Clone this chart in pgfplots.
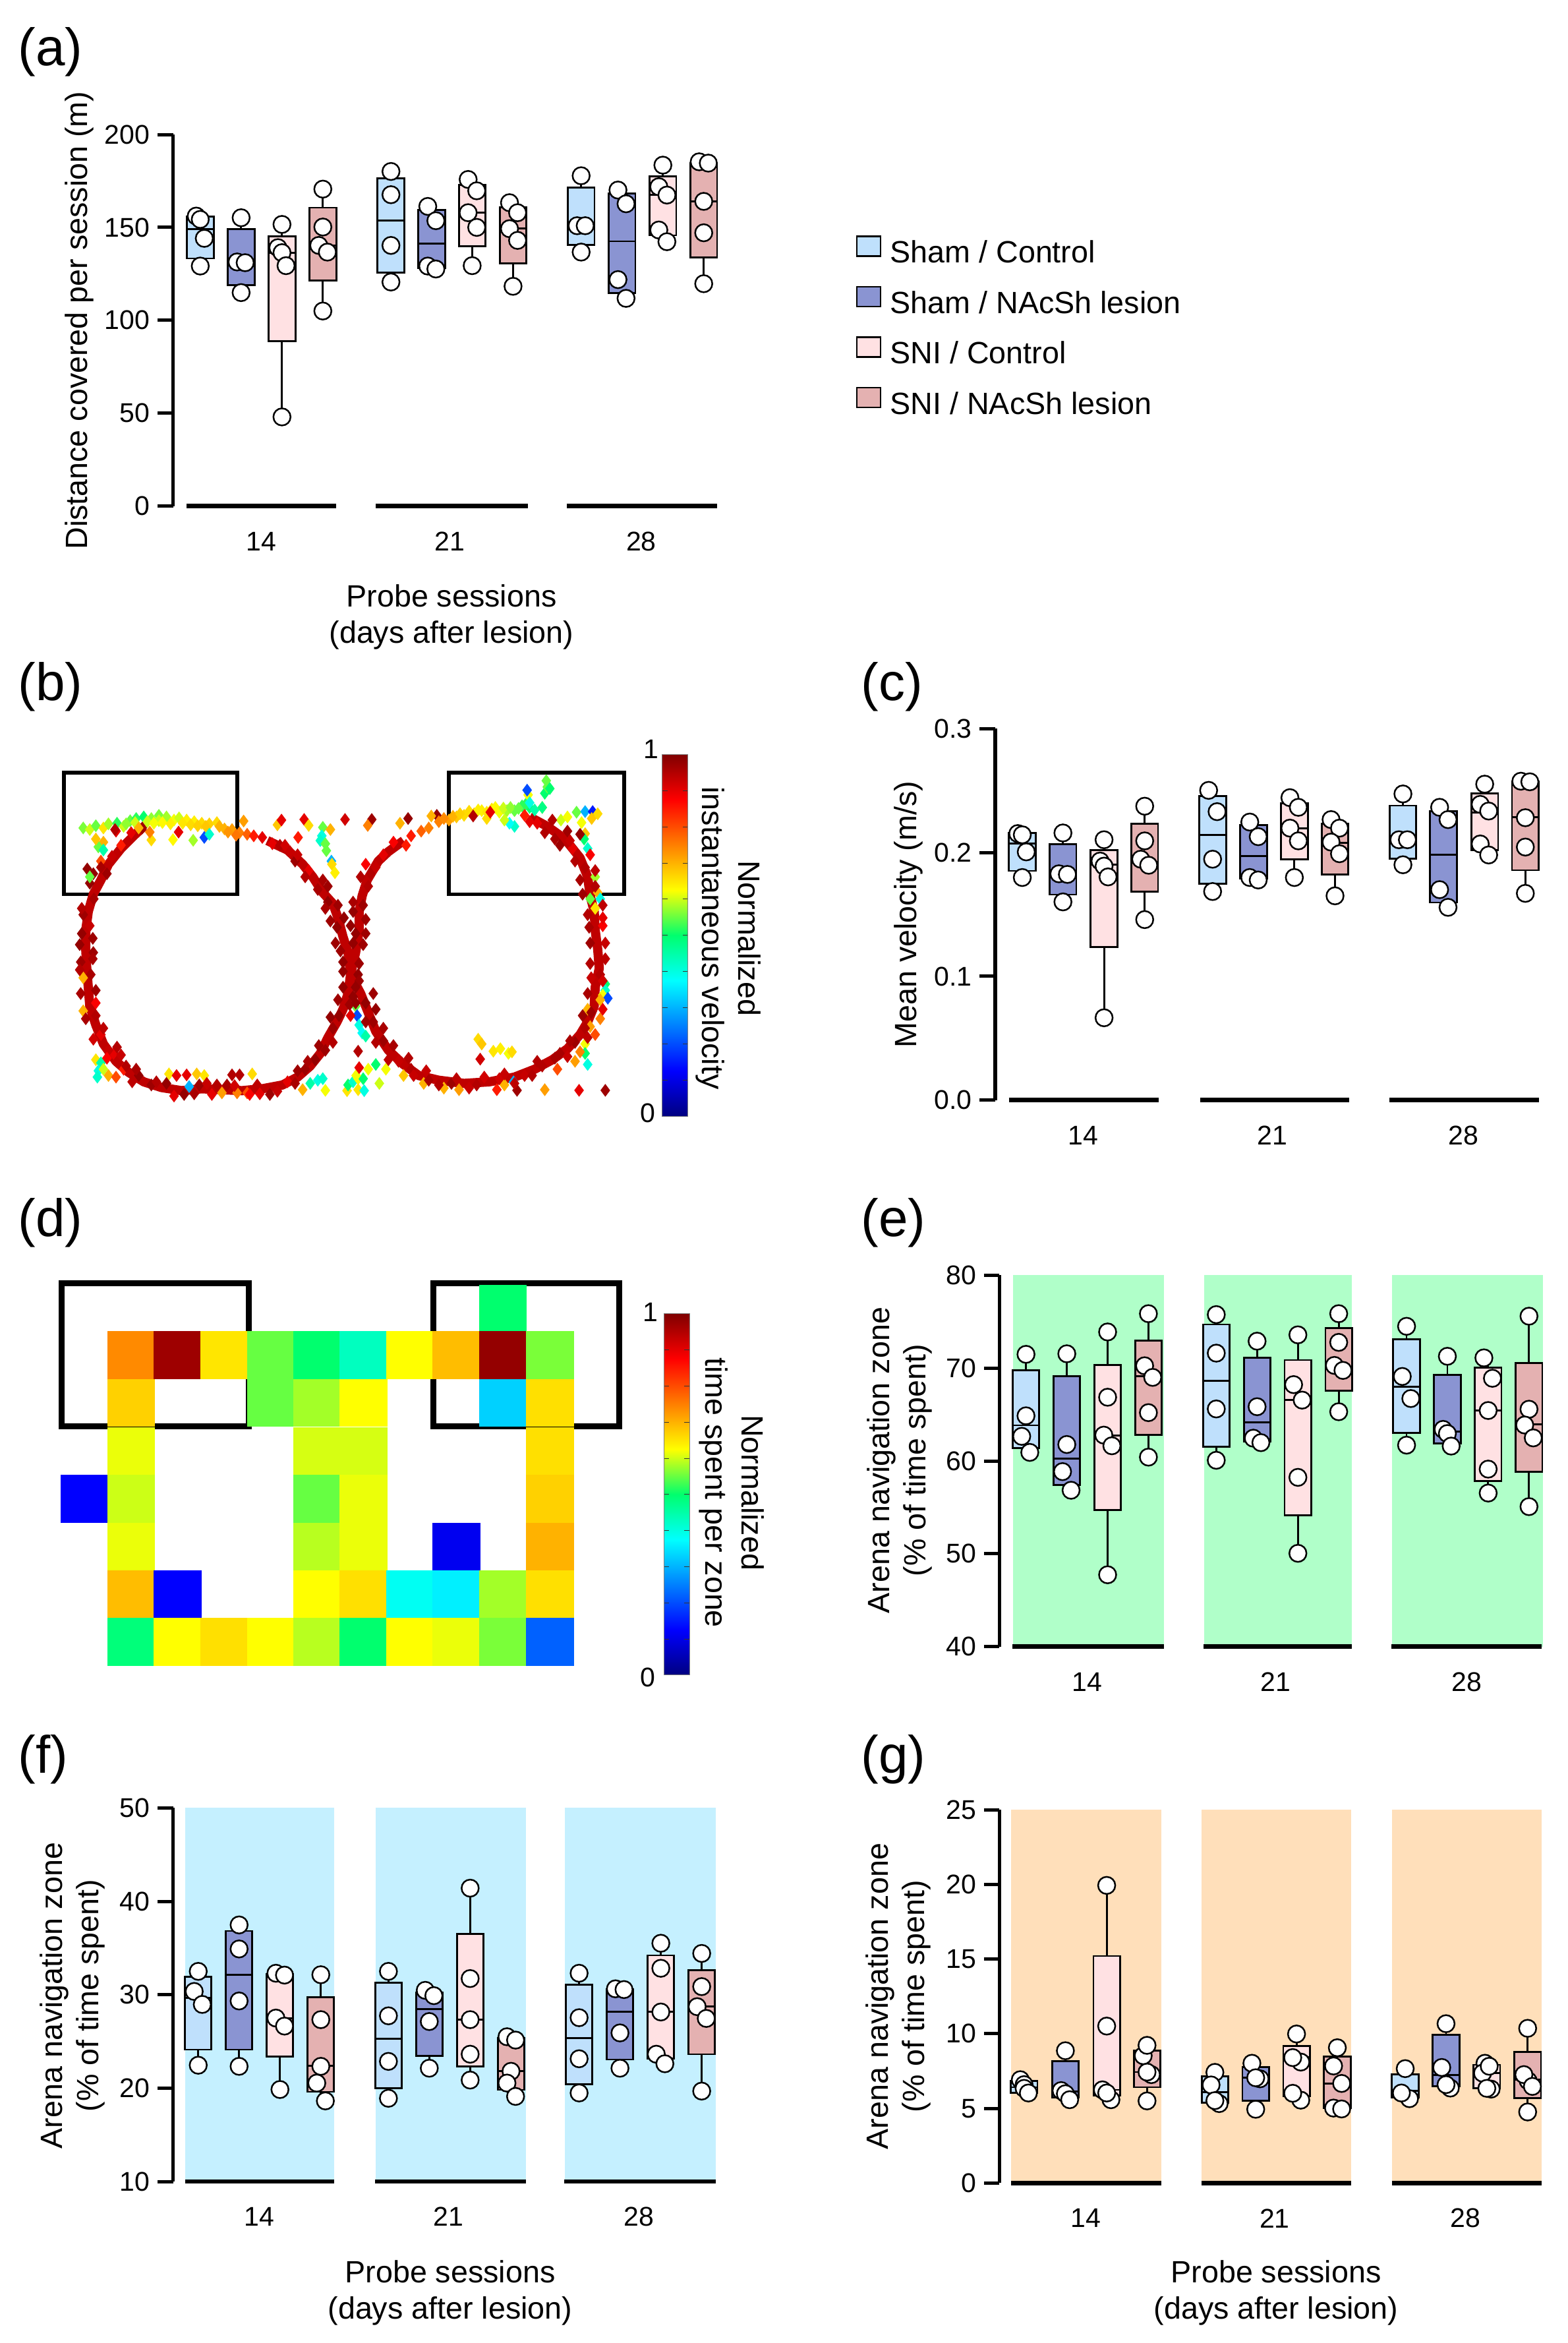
\documentclass[border=0pt]{standalone}
\usepackage{pgfplots}
\pgfplotsset{compat=1.18}
\usepackage{fontspec}
\setmainfont{Liberation Sans}
\definecolor{cA}{HTML}{BFE0FC}
\definecolor{cB}{HTML}{8A94D2}
\definecolor{cC}{HTML}{FFE1E3}
\definecolor{cD}{HTML}{E4B1B1}
\definecolor{bE}{HTML}{B0FFC9}
\definecolor{bF}{HTML}{C5F0FF}
\definecolor{bG}{HTML}{FFDFBA}
\newcommand\tickf{\fontsize{12.3}{14}\selectfont}
\newcommand\labf{\fontsize{14}{16.4}\selectfont}
\newcommand\pnlf{\fontsize{24}{26}\selectfont}
\pgfplotsset{
 jetg/.style={colormap={jetg}{rgb255(0cm)=(0,0,128) rgb255(1cm)=(0,0,255) rgb255(3cm)=(0,255,255) rgb255(4cm)=(0,255,110) rgb255(5cm)=(255,255,0) rgb255(7cm)=(255,0,0) rgb255(8cm)=(128,0,0)}},
 bxp/.style={scale only axis, anchor=north west, axis lines=left, axis line style={-},
  y axis line style={line width=1.7pt}, x axis line style={draw=none}, clip=false,
  tick align=outside, major tick length=7pt, ytick style={black,line width=1.5pt},
  xtick style={draw=none}, xticklabels={14,21,28},
  ticklabel style={font=\tickf}, xticklabel style={anchor=center,yshift=-9pt}},
 cbar/.style={hide axis, scale only axis, anchor=north west, xmin=0,xmax=1568,ymin=0,ymax=1568,y dir=reverse, clip=false, jetg, point meta min=0, point meta max=1, colorbar},
 cbs/.style={scale only axis, anchor=north west, ytick={0,0.1,...,1}, yticklabels={}, tick align=inside, major tick length=2.5pt, ytick style={black!80,line width=.3pt}, axis line style={black!50,line width=.3pt}}
}
% position, colour, lower whisker, lower quartile, median, upper quartile, upper whisker, animals
\newcommand\bx[8]{%
 \pgfmathsetmacro\xl{#1-\hw}\pgfmathsetmacro\xr{#1+\hw}%
 \addplot[black,line width=.85pt] coordinates {(#1,#3)(#1,#7)};
 \addplot[fill=#2,draw=black,line width=.85pt] coordinates {(\xl,#4)(\xr,#4)(\xr,#6)(\xl,#6)} -- cycle;
 \addplot[black,line width=.85pt] coordinates {(\xl,#5)(\xr,#5)};
 \addplot[only marks,mark=*,mark size=3.9pt,mark options={fill=white,draw=black,line width=.75pt}] coordinates {#8};
}
\newcommand\bl[3]{\addplot[black,line width=2pt] coordinates {(#1,#3)(#2,#3)};}
\newcommand\bd[4]{\addplot[fill=#3,draw=none] coordinates {(#1,#4)(#1,\ytop)(#2,\ytop)(#2,#4)} -- cycle;}
\begin{document}
\begin{tikzpicture}
\useasboundingbox (0pt,0pt) rectangle (713.7pt,-1066.2pt);
% ---- (a)
\def\hw{26.5}
\begin{axis}[bxp, at={(78.75pt,-61.2pt)}, width=249.6pt, height=169.1pt, xmin=343,xmax=1430, ymin=0,ymax=200,
 ytick={0,50,100,150,200}, yticklabels={0,50,100,150,200}, xtick={518,892,1271}]
\bl{370}{666}{0}\bl{745}{1047}{0}\bl{1124}{1422}{0}
\bx{397}{cA}{129.2}{133.3}{149.1}{155.7}{156.1}{(389,156.1)(397,154.3)(405,144.1)(397,129.2)}
\bx{478}{cB}{114.9}{118.8}{131.7}{149.1}{155.2}{(478,155.2)(470,131.4)(486,131)(478,114.9)}
\bx{559}{cC}{48}{88.9}{136.4}{145.2}{151.6}{(559,151.6)(551,139.1)(559,136.4)(567,129.4)(559,48)}
\bx{640}{cD}{105}{121.3}{140.3}{160.6}{170.6}{(640,170.6)(640,150.2)(632,140.3)(649,136.7)(640,105)}
\bx{775}{cA}{120.6}{125.6}{153.8}{176.5}{180.1}{(775,180.1)(775,167.6)(775,140.3)(775,120.6)}
\bx{856}{cB}{127.6}{128.1}{141.2}{159.3}{161.3}{(848,161.3)(864,153.6)(848,129.2)(864,127.6)}
\bx{936}{cC}{129.4}{140}{157.9}{172.9}{175.8}{(928,175.8)(945,169.7)(928,157.9)(945,150)(936,129.4)}
\bx{1017}{cD}{118.3}{130.5}{149.3}{160.9}{163.3}{(1010,163.3)(1026,157.9)(1010,149.3)(1026,143)(1017,118.3)}
\bx{1152}{cA}{136.7}{140.5}{150.9}{171.3}{177.8}{(1152,177.8)(1144,150.9)(1160,150.9)(1152,136.7)}
\bx{1233}{cB}{111.8}{114.7}{142.5}{168.1}{170.1}{(1225,170.1)(1241,162.7)(1225,121.9)(1241,111.8)}
\bx{1314}{cC}{142.3}{145.7}{167.4}{177.6}{183.5}{(1314,183.5)(1306,171.9)(1322,167.4)(1306,148.6)(1322,142.3)}
\bx{1395}{cD}{119.7}{133.7}{164}{184.6}{185.3}{(1386,185.3)(1404,184.6)(1395,164)(1395,147.1)(1395,119.7)}
\end{axis}
% ---- (c)
\def\hw{27}
\begin{axis}[bxp, at={(452.9pt,-331.6pt)}, width=247.7pt, height=169pt, xmin=412,xmax=1510, ymin=0,ymax=0.3,
 ytick={0,0.1,0.2,0.3}, yticklabels={0.0,0.1,0.2,0.3}, xtick={590,971,1357}]
\bl{440}{742}{0}\bl{826}{1127}{0}\bl{1208}{1510}{0}
\bx{467}{cA}{.1798}{.1852}{.2074}{.2158}{.2158}{(458,.2153)(467,.2143)(475,.2005)(467,.1798)}
\bx{549}{cB}{.1601}{.166}{.1828}{.2069}{.2158}{(549,.2158)(541,.1828)(558,.1823)(549,.1601)}
\bx{632}{cC}{.0665}{.1236}{.1901}{.202}{.2103}{(632,.2103)(624,.1931)(632,.189)(640,.1803)(632,.0665)}
\bx{714}{cD}{.1458}{.1685}{.1921}{.2232}{.2374}{(714,.2374)(714,.2094)(706,.1946)(722,.1897)(714,.1458)}
\bx{851}{cA}{.1685}{.1749}{.2143}{.2458}{.2502}{(843,.2502)(860,.233)(851,.1946)(851,.1685)}
\bx{934}{cB}{.1778}{.1788}{.197}{.2222}{.2246}{(926,.2246)(943,.2128)(926,.1798)(943,.1778)}
\bx{1016}{cC}{.1798}{.1946}{.2197}{.2399}{.2443}{(1007,.2443)(1024,.2365)(1007,.2197)(1024,.2094)(1016,.1798)}
\bx{1098}{cD}{.165}{.1823}{.2079}{.2232}{.2266}{(1090,.2266)(1107,.2197)(1090,.2084)(1107,.199)(1098,.165)}
\bx{1235}{cA}{.1901}{.1951}{.2103}{.2379}{.2473}{(1235,.2473)(1227,.2103)(1244,.2103)(1235,.1901)}
\bx{1317}{cB}{.1557}{.1596}{.198}{.2335}{.2365}{(1309,.2365)(1326,.2266)(1309,.17)(1326,.1557)}
\bx{1400}{cC}{.198}{.202}{.2325}{.2478}{.2552}{(1400,.2552)(1391,.2389)(1408,.2335)(1391,.2069)(1408,.198)}
\bx{1482}{cD}{.167}{.1857}{.2286}{.2571}{.2576}{(1473,.2576)(1491,.2571)(1482,.2281)(1482,.2044)(1482,.167)}
\end{axis}
% ---- (e)
\def\ytop{80}\def\hw{28}
\begin{axis}[bxp, at={(454.9pt,-580.3pt)}, width=247.3pt, height=169pt, xmin=370,xmax=1515, ymin=40,ymax=80,
 ytick={40,50,60,70,80}, yticklabels={40,50,60,70,80}, xtick={555,952,1355}]
\bd{398}{717}{bE}{40}\bd{801}{1113}{bE}{40}\bd{1197}{1515}{bE}{40}
\bl{397}{717}{40}\bl{800}{1113}{40}\bl{1196}{1512}{40}
\bx{426}{cA}{60.92}{61.36}{63.84}{69.75}{71.48}{(426,71.48)(426,64.86)(417,62.65)(434,60.92)}
\bx{512}{cB}{56.84}{57.39}{60.24}{69.13}{71.54}{(512,71.54)(512,61.77)(503,58.85)(521,56.84)}
\bx{598}{cC}{47.74}{54.7}{62.72}{70.32}{73.89}{(598,73.89)(598,66.86)(590,62.78)(607,61.63)(598,47.74)}
\bx{684}{cD}{60.41}{62.82}{69.1}{72.97}{75.86}{(684,75.86)(676,70.25)(693,69)(684,65.2)(684,60.41)}
\bx{827}{cA}{60.07}{61.53}{68.62}{74.7}{75.76}{(827,75.76)(827,71.61)(827,65.6)(827,60.07)}
\bx{913}{cB}{61.97}{62.11}{64.18}{71.14}{72.9}{(913,72.9)(913,65.84)(905,62.45)(921,61.97)}
\bx{999}{cC}{50.05}{54.13}{66.59}{70.87}{73.58}{(999,73.58)(990,68.22)(1008,66.55)(999,58.23)(999,50.05)}
\bx{1085}{cD}{65.3}{67.54}{70.02}{74.3}{75.86}{(1085,75.86)(1085,72.77)(1076,70.29)(1094,69.75)(1085,65.3)}
\bx{1228}{cA}{61.7}{62.99}{67.98}{73.11}{74.5}{(1228,74.5)(1219,69.1)(1237,66.72)(1228,61.7)}
\bx{1314}{cB}{61.6}{61.9}{63.16}{69.27}{71.27}{(1314,71.27)(1305,63.4)(1314,62.95)(1322,61.6)}
\bx{1400}{cC}{56.54}{57.83}{65.43}{70.02}{71.1}{(1391,71.1)(1409,68.9)(1400,65.43)(1400,59.12)(1400,56.54)}
\bx{1486}{cD}{55.08}{58.81}{63.94}{70.53}{75.59}{(1486,75.59)(1486,65.57)(1477,63.87)(1495,62.48)(1486,55.08)}
\end{axis}
% ---- (f)
\def\ytop{50}\def\hw{26}
\begin{axis}[bxp, at={(78.75pt,-822.7pt)}, width=247.3pt, height=170pt, xmin=343,xmax=1420, ymin=10,ymax=50,
 ytick={10,20,30,40,50}, yticklabels={10,20,30,40,50}, xtick={514,889,1267}]
\bd{367}{662}{bF}{10}\bd{745}{1042}{bF}{10}\bd{1120}{1419}{bF}{10}
\bl{367}{662}{10}\bl{744}{1042}{10}\bl{1119}{1419}{10}
\bx{393}{cA}{22.45}{24.12}{29.65}{31.93}{32.5}{(393,32.5)(385,30.35)(401,28.96)(393,22.45)}
\bx{474}{cB}{22.33}{24.12}{32.14}{36.82}{37.47}{(474,37.47)(474,34.9)(474,29.33)(474,22.33)}
\bx{555}{cC}{19.85}{23.35}{27.5}{32.22}{32.3}{(547,32.3)(564,32.1)(547,27.5)(564,26.64)(555,19.85)}
\bx{636}{cD}{18.63}{19.6}{22.41}{29.74}{32.14}{(636,32.14)(636,27.33)(636,22.33)(628,20.54)(645,18.63)}
\bx{770}{cA}{18.91}{19.97}{25.3}{31.28}{32.5}{(770,32.5)(770,27.74)(770,22.86)(770,18.91)}
\bx{851}{cB}{22.13}{23.47}{28.47}{30.26}{30.47}{(843,30.47)(860,29.9)(851,27.13)(851,22.13)}
\bx{932}{cC}{20.86}{22.33}{27.33}{36.53}{41.41}{(932,41.41)(932,31.73)(932,27.33)(932,23.63)(932,20.86)}
\bx{1013}{cD}{19.11}{19.81}{21.84}{25.34}{25.5}{(1005,25.5)(1022,25.14)(1013,21.8)(1005,20.54)(1022,19.11)}
\bx{1148}{cA}{19.48}{20.42}{25.38}{31.08}{32.3}{(1148,32.3)(1148,27.54)(1148,23.14)(1148,19.48)}
\bx{1229}{cB}{22.13}{23.06}{28.19}{30.59}{30.63}{(1220,30.63)(1237,30.55)(1229,25.91)(1229,22.13)}
\bx{1310}{cC}{22.61}{23.14}{28.15}{34.21}{35.51}{(1310,35.51)(1310,32.83)(1310,28.15)(1301,23.63)(1318,22.61)}
\bx{1391}{cD}{19.68}{23.63}{28.76}{32.62}{34.42}{(1391,34.42)(1391,30.87)(1382,28.72)(1400,27.46)(1391,19.68)}
\end{axis}
% ---- (g)
\def\ytop{25}\def\hw{28}
\begin{axis}[bxp, at={(454.9pt,-823.5pt)}, width=246.7pt, height=169.9pt, xmin=370,xmax=1512, ymin=0,ymax=25,
 ytick={0,5,10,15,20,25}, yticklabels={0,5,10,15,20,25}, xtick={552,950,1352}]
\bd{395}{711}{bG}{0}\bd{796}{1111}{bG}{0}\bd{1197}{1512}{bG}{0}
\bl{395}{711}{0}\bl{796}{1111}{0}\bl{1197}{1512}{0}
\bx{422}{cA}{6.03}{6.03}{6.42}{6.85}{6.92}{(414,6.92)(422,6.59)(422,6.34)(431,6.03)}
\bx{509}{cB}{5.58}{5.75}{6.14}{8.17}{8.86}{(509,8.86)(500,6.19)(509,5.98)(518,5.58)}
\bx{596}{cC}{5.58}{5.86}{6.24}{15.2}{19.93}{(596,19.93)(596,10.51)(587,6.24)(605,5.58)(596,6.03)}
\bx{681}{cD}{5.5}{6.42}{7.43}{8.88}{9.22}{(690,7.26)(681,7.43)(673,8.53)(681,9.22)(681,5.5)}
\bx{824}{cA}{5.32}{5.37}{6.08}{7.15}{7.41}{(824,7.41)(816,6.57)(833,5.32)(824,5.52)}
\bx{910}{cB}{4.94}{5.5}{7.05}{7.76}{8.02}{(902,8.02)(919,6.98)(910,7.05)(910,4.94)}
\bx{996}{cC}{5.55}{5.83}{8.45}{9.19}{9.98}{(996,9.98)(1005,8.1)(988,8.4)(1005,5.55)(988,6.01)}
\bx{1082}{cD}{4.96}{5.02}{6.67}{8.48}{9.06}{(1082,9.06)(1074,7.84)(1091,6.67)(1074,5.02)(1091,4.96)}
\bx{1225}{cA}{5.65}{5.73}{6.16}{7.26}{7.66}{(1225,7.66)(1234,5.65)(1217,6.03)}
\bx{1311}{cB}{6.36}{6.47}{7.23}{9.93}{10.67}{(1311,10.67)(1302,7.74)(1320,6.36)(1311,6.59)}
\bx{1397}{cC}{6.29}{6.34}{7.36}{7.92}{8.02}{(1393,8.02)(1388,7.36)(1402,7.82)(1406,6.29)(1397,6.34)}
\bx{1483}{cD}{4.76}{5.7}{6.92}{8.78}{10.36}{(1483,10.36)(1484,6.85)(1475,7.26)(1493,6.47)(1483,4.76)}
\end{axis}
% ---- (b)
\begin{axis}[cbar, at={(0pt,-300pt)}, width=360pt, height=225pt,
 colorbar style={cbs, at={(0.8374,0.8074)}, width=11.7pt, height=164.6pt}]
\addplot[black,line width=1.7pt,line join=miter] coordinates {(127,360)(470,360)(470,745)(127,745)(127,360)(470,360)};
\addplot[black,line width=1.7pt,line join=miter] coordinates {(890,360)(1237,360)(1237,745)(890,745)(890,360)(1237,360)};
\addplot[color=red!75!black,line width=4.2pt,line join=round] coordinates {(285,530)(265,560)(240,600)(215,650)(200,700)(185,745)(175,800)(170,860)(170,920)(172,980)(175,1040)(178,1100)(190,1160)(205,1220)(230,1275)(255,1310)(285,1340)(320,1358)(360,1368)(400,1362)(440,1365)(480,1368)(520,1362)(560,1350)(590,1325)(615,1290)(635,1250)(650,1200)(668,1150)(680,1110)(690,1060)(695,1000)(690,930)(680,880)(670,820)(660,775)(640,740)(620,690)(600,650)(570,605)(530,575)};
\addplot[color=red!75!black,line width=4.2pt,line join=round] coordinates {(800,575)(770,610)(750,640)(728,700)(718,750)(712,800)(712,860)(705,930)(695,1000)(715,1060)(730,1120)(745,1180)(770,1240)(800,1285)(830,1320)(870,1335)(920,1345)(970,1340)(1020,1325)(1060,1300)(1095,1270)(1125,1235)(1150,1190)(1165,1150)(1178,1100)(1180,1040)(1188,980)(1185,920)(1180,860)(1178,800)(1170,750)(1165,690)(1150,630)(1120,570)(1085,530)(1050,500)};
\addplot[scatter,only marks,mark=diamond*,mark size=2.6pt,scatter src=explicit,scatter/use mapped color={draw=mapped color,fill=mapped color}] table[x index=0,y index=1,meta index=2] {
165 535 .56
178 540 .6
190 528 .55
205 535 .65
215 522 .58
232 520 .52
245 530 .6
258 512 .55
270 505 .52
285 500 .5
300 505 .57
315 495 .56
315 512 .6
330 500 .58
345 510 .62
355 503 .6
370 510 .64
385 515 .64
400 520 .66
415 522 .67
430 518 .66
445 538 .7
460 540 .72
475 550 .75
490 555 .78
503 560 .85
250 522 .57
268 518 .6
292 515 .6
305 520 .62
322 518 .63
338 522 .64
362 520 .65
378 525 .66
392 528 .67
408 530 .68
435 530 .7
452 548 .73
468 558 .76
483 513 .72
520 565 .9
540 585 .9
555 590 .95
575 610 .93
585 640 .97
230 545 .9
260 550 .9
282 535 .97
205 580 .7
195 595 .55
205 605 .45
190 570 .68
200 640 .8
173 665 .98
185 680 .98
178 710 .98
178 690 .55
240 590 .85
228 540 .95
300 573 .66
343 572 .63
383 574 .58
405 565 .2
415 555 .42
354 548 .9
297 548 .75
275 535 .7
190 1270 .65
200 1280 .45
195 1305 .4
193 1325 .42
205 1300 .6
215 1320 .7
230 1325 .8
245 1300 .85
225 1250 .9
335 1315 .65
350 1320 .9
370 1318 .9
390 1315 .68
405 1320 .65
460 1318 .95
475 1318 .95
500 1315 .66
375 1355 .3
440 1375 .72
470 1375 .75
490 1375 .8
600 1365 .7
645 1367 .62
615 1345 .45
630 1335 .4
640 1330 .42
688 1368 .65
690 1350 .5
700 1340 .42
710 1330 .62
720 1330 .5
706 1320 .62
710 1365 .65
722 1368 .4
705 1100 .55
708 1130 .2
712 1160 .4
718 1185 .38
725 1195 .45
710 1243 .95
712 1295 .9
730 1300 .62
745 1285 .5
765 1300 .62
752 1345 .6
695 1130 .9
550 525 .68
558 510 .9
603 508 .9
612 527 .66
640 533 .55
655 540 .7
638 560 .4
635 575 .42
645 585 .55
647 607 .55
657 640 .3
658 650 .66
664 677 .64
591 565 .85
684 508 .92
737 508 .97
809 505 .98
793 520 .7
729 527 .75
866 495 .98
855 497 .7
815 560 .85
835 545 .78
850 535 .75
870 515 .75
890 510 .72
905 500 .68
920 495 .66
940 490 .68
955 480 .64
975 475 .65
990 485 .62
1005 480 .58
1020 480 .55
1035 465 .52
1050 470 .5
1060 478 .45
1075 470 .6
880 505 .74
898 498 .7
912 490 .67
930 482 .66
948 478 .64
965 485 .65
982 470 .63
998 472 .6
1012 470 .57
1028 473 .55
1042 460 .52
1047 430 .62
1045 415 .2
1050 455 .4
1080 425 .5
1085 405 .55
1083 385 .55
1090 410 .5
1075 470 .48
1020 530 .42
1010 520 .38
1000 510 .6
965 505 .66
938 497 .95
972 485 .9
1112 510 .6
1125 500 .62
1143 485 .55
1160 483 .3
1175 483 .15
1185 490 .66
1173 505 .68
1153 518 .62
1160 553 .68
1158 570 .5
1165 600 .42
1150 555 .98
1180 690 .58
1185 740 .7
1170 760 .55
1190 760 .4
1180 790 .65
1200 1030 .5
1200 1050 .42
1195 1065 .62
1205 1075 .2
1190 1080 .7
1165 1110 .7
1190 1140 .75
1170 1165 .72
1180 1190 .8
1160 1220 .62
1160 1250 .5
1165 1285 .4
1150 1245 .75
1140 1275 .72
1105 1300 .8
948 1205 .66
955 1220 .68
978 1243 .65
992 1235 .64
1008 1250 .62
1015 1245 .66
952 1268 .92
1025 1367 .97
1080 1365 .72
1148 1367 .9
1200 1367 .97
880 1360 .7
910 1365 .72
985 1365 .85
1000 1350 .7
1018 1340 .3
800 1320 .68
840 1345 .7
165 810 .97
162 870 .98
178 845 .93
160 960 .97
185 930 .97
165 1010 .7
180 1000 .96
190 1050 .97
165 1115 .7
190 1090 .88
200 1190 .9
215 1240 .93
250 1290 .95
275 1320 .98
300 1350 .97
330 1345 .98
365 1380 .98
395 1350 .97
420 1380 .9
450 1350 .96
495 1380 .88
535 1380 .97
570 1340 .9
605 1300 .97
625 1270 .98
660 1170 .97
672 1130 .98
700 1070 .98
680 1040 .98
710 1000 .98
680 960 .98
665 900 .97
700 900 .98
668 850 .98
650 770 .98
630 730 .96
612 670 .9
715 690 .95
735 680 .95
720 780 .97
700 800 .98
725 870 .97
712 1020 .97
725 1090 .98
740 1150 .97
760 1210 .97
790 1275 .93
815 1300 .95
850 1335 .96
895 1345 .97
945 1350 .95
990 1330 .92
1040 1320 .93
1075 1290 .95
1110 1250 .96
1140 1215 .97
1160 1170 .95
1172 1120 .97
1190 1000 .95
1172 1010 .93
1200 950 .94
1170 900 .97
1195 845 .88
1165 810 .95
1180 720 .95
1160 660 .95
1135 600 .9
1110 590 .97
1095 510 .95
1125 545 .97
1065 520 .9
200 660 .96
222 625 .93
212 680 .97
186 760 .96
162 790 .95
184 885 .97
158 905 .98
184 950 .96
158 985 .95
160 1060 .96
190 1130 .95
170 1140 .96
205 1170 .94
185 1205 .92
232 1230 .95
240 1255 .93
212 1265 .88
270 1300 .96
262 1340 .94
310 1340 .95
345 1385 .9
385 1378 .96
410 1345 .93
430 1350 .95
465 1352 .92
510 1350 .94
515 1378 .9
550 1370 .93
585 1345 .96
590 1305 .97
610 1275 .96
645 1240 .97
660 1215 .95
632 1225 .97
655 1135 .98
693 1095 .97
670 1080 .97
705 1040 .98
680 990 .98
712 965 .97
675 925 .97
705 870 .98
655 830 .97
682 820 .98
645 790 .96
670 780 .97
650 720 .97
605 690 .95
640 700 .96
590 620 .93
565 590 .92
730 720 .95
745 660 .93
725 650 .88
760 620 .9
780 580 .88
805 590 .85
700 770 .96
725 825 .97
695 845 .98
720 905 .97
740 1060 .97
705 1090 .98
745 1110 .98
725 1150 .97
760 1170 .96
745 1215 .95
780 1225 .96
770 1270 .94
810 1265 .95
820 1320 .93
845 1305 .93
870 1350 .95
905 1330 .94
930 1360 .93
960 1325 .92
1000 1315 .93
1020 1345 .94
1055 1320 .95
1065 1275 .95
1100 1265 .96
1125 1260 .93
1130 1210 .96
1165 1200 .94
1155 1130 .97
1195 1110 .9
1165 1060 .96
1195 1020 .92
1170 965 .95
1200 900 .93
1195 820 .9
1168 850 .96
1195 780 .94
1155 745 .97
1150 700 .96
1180 670 .94
1140 640 .95
1170 620 .88
1100 570 .96
1080 550 .95
1130 575 .93
1050 515 .9
1040 495 .85
};
\end{axis}
% ---- (d)
\begin{axis}[cbar, at={(0pt,-540pt)}, width=360pt, height=240pt,
 colorbar style={cbs, at={(0.8393,0.7589)}, width=11.7pt, height=164.4pt}]
\addplot[scatter,only marks,mark=square*,mark size=10.7pt,scatter src=explicit,scatter/use mapped color={draw=mapped color,fill=mapped color}] table[x index=0,y index=1,meta index=2] {
997 364 .5
260 501 .74
352 501 .97
445 501 .65
537 501 .55
629 501 .5
721 501 .43
813 501 .625
905 501 .69
997 501 .98
1090 501 .56
260 643 .67
537 643 .55
629 643 .58
721 643 .625
997 643 .33
1090 643 .655
260 786 .615
629 786 .605
721 786 .605
1090 786 .655
168 928 .125
260 928 .60
629 928 .55
721 928 .615
1090 928 .67
260 1070 .615
629 1070 .59
721 1070 .615
905 1070 .11
1090 1070 .70
260 1212 .69
352 1212 .125
629 1212 .625
721 1212 .655
813 1212 .385
905 1212 .36
997 1212 .58
1090 1212 .655
260 1353 .49
352 1353 .625
445 1353 .655
537 1353 .625
629 1353 .59
721 1353 .5
813 1353 .625
905 1353 .615
997 1353 .56
1090 1353 .22
};
\addplot[black,line width=2.7pt,line join=miter] coordinates {(122,288)(493,288)(493,713)(122,713)(122,288)(493,288)};
\addplot[black,line width=2.7pt,line join=miter] coordinates {(859,288)(1227,288)(1227,713)(859,713)(859,288)(1227,288)};
\end{axis}
% ---- text overlay in page pixels
\begin{axis}[at={(0pt,0pt)}, anchor=north west, scale only axis, width=713.7pt, height=1066.2pt, hide axis, clip=false,
 xmin=0,xmax=2379,ymin=0,ymax=3554,y dir=reverse,
 legend image code/.code={\draw[#1,draw=black,line width=.7pt] (0pt,-1.2pt) rectangle (10.8pt,7.8pt);},
 legend cell align=left,
 legend style={at={(0.546,0.8995)},anchor=north west,draw=none,fill=none,inner sep=0pt,outer sep=0pt,font=\labf,row sep=7pt,/tikz/column 1/.style={column sep=2pt}}]
\addlegendimage{fill=cA}\addlegendentry{Sham / Control}
\addlegendimage{fill=cB}\addlegendentry{Sham / NAcSh lesion}
\addlegendimage{fill=cC}\addlegendentry{SNI / Control}
\addlegendimage{fill=cD}\addlegendentry{SNI / NAcSh lesion}
\node[font=\pnlf,anchor=west,inner sep=0pt] at (axis cs:27,79) {(a)};
\node[font=\pnlf,anchor=west,inner sep=0pt] at (axis cs:27,1042) {(b)};
\node[font=\pnlf,anchor=west,inner sep=0pt] at (axis cs:1306,1042) {(c)};
\node[font=\pnlf,anchor=west,inner sep=0pt] at (axis cs:27,1855) {(d)};
\node[font=\pnlf,anchor=west,inner sep=0pt] at (axis cs:1306,1855) {(e)};
\node[font=\pnlf,anchor=west,inner sep=0pt] at (axis cs:27,2669) {(f)};
\node[font=\pnlf,anchor=west,inner sep=0pt] at (axis cs:1306,2669) {(g)};
\node[font=\labf,rotate=90] at (axis cs:120,486) {Distance covered per session (m)};
\node[font=\labf,align=center] at (axis cs:685,936) {Probe sessions\\(days after lesion)};
\node[font=\labf,rotate=90] at (axis cs:1378,1387) {Mean velocity (m/s)};
\node[font=\labf,rotate=90,align=center] at (axis cs:1365,2215) {Arena navigation zone\\(\% of time spent)};
\node[font=\labf,rotate=90,align=center] at (axis cs:110,3027) {Arena navigation zone\\(\% of time spent)};
\node[font=\labf,rotate=90,align=center] at (axis cs:1363,3028) {Arena navigation zone\\(\% of time spent)};
\node[font=\labf,align=center] at (axis cs:683,3478) {Probe sessions\\(days after lesion)};
\node[font=\labf,align=center] at (axis cs:1936,3478) {Probe sessions\\(days after lesion)};
\node[font=\labf,rotate=-90,align=center] at (axis cs:1105,1423) {Normalized\\instantaneous velocity};
\node[font=\labf,rotate=-90,align=center] at (axis cs:1110,2264) {Normalized\\time spent per zone};
\node[font=\tickf] at (axis cs:988,1136) {1};
\node[font=\tickf] at (axis cs:983,1688) {0};
\node[font=\tickf] at (axis cs:987,1990) {1};
\node[font=\tickf] at (axis cs:983,2544) {0};
\end{axis}
\end{tikzpicture}
\end{document}
